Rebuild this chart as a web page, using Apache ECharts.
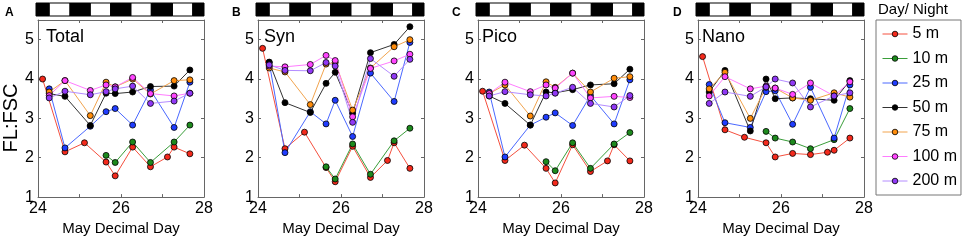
<!DOCTYPE html>
<html>
<head>
<meta charset="utf-8">
<script src="https://cdn.jsdelivr.net/npm/echarts@6/dist/echarts.min.js"></script>
<style>
html, body { margin: 0; padding: 0; background: #fff; }
#chart { width: 964px; height: 241px; }
</style>
</head>
<body>
<div id="chart"></div>
<script>
// sampling times (May decimal day) for each depth group
var t5m   = [24.11, 24.65, 25.12, 25.64, 25.86, 26.28, 26.71, 27.12, 27.28, 27.66];
var t10m  = [25.64, 25.86, 26.28, 26.71, 27.28, 27.66];
var tDeep = [24.27, 24.65, 25.26, 25.64, 25.86, 26.28, 26.71, 27.28, 27.66];

// light/dark switch times, first segment is night
var lightEdges = [23.95, 24.27, 24.77, 25.26, 25.75, 26.24, 26.73, 27.24, 27.73, 28.0];

var depths = ['5 m', '10 m', '25 m', '50 m', '75 m', '100 m', '200 m'];
var panelNames = ['Total', 'Syn', 'Pico', 'Nano'];
var panelLetters = ['A', 'B', 'C', 'D'];
var xLabels = [24, 26, 28];
var yLabels = [1, 2, 3, 4, 5];

// A - Total
var total5   = [4.0, 2.15, 2.38, 1.89, 1.54, 2.27, 1.77, 2.02, 2.27, 2.1];
var total10  = [2.06, 1.88, 2.4, 1.88, 2.4, 2.83];
var total25  = [3.75, 2.25, 2.8, 3.17, 3.25, 2.83, 3.72, 2.77, 3.92];
var total50  = [3.63, 3.56, 2.82, 3.64, 3.63, 3.67, 3.81, 3.82, 4.23];
var total75  = [3.67, 3.96, 3.07, 3.92, 3.8, 4.0, 3.62, 3.96, 3.98];
var total100 = [3.58, 3.96, 3.71, 3.85, 3.8, 4.04, 3.63, 3.57, 3.64];
var total200 = [3.52, 3.69, 3.6, 3.68, 3.75, 3.82, 3.38, 3.44, 3.64];

// B - Syn
var syn5   = [4.78, 2.23, 2.65, 1.75, 1.39, 2.29, 1.5, 1.93, 2.38, 1.73];
var syn10  = [1.77, 1.46, 2.35, 1.58, 2.43, 2.75];
var syn25  = [4.42, 2.13, 3.17, 2.86, 3.46, 2.54, 4.15, 3.43, 4.93];
var syn50  = [4.43, 3.4, 3.15, 3.89, 4.17, 3.13, 4.67, 4.88, 5.33];
var syn75  = [4.28, 4.18, 3.35, 4.38, 4.42, 3.21, 4.28, 4.82, 5.0];
var syn100 = [4.33, 4.31, 4.37, 4.6, 4.47, 3.04, 4.27, 4.46, 4.63];
var syn200 = [4.36, 4.22, 4.21, 4.42, 4.33, 2.9, 4.52, 4.07, 4.5];

// C - Pico
var pico5   = [3.69, 1.93, 2.32, 1.73, 1.36, 2.33, 1.65, 1.92, 2.33, 1.92];
var pico10  = [1.9, 1.67, 2.38, 1.73, 2.35, 2.64];
var pico25  = [3.67, 2.02, 2.83, 3.03, 3.14, 2.82, 3.58, 2.86, 3.98];
var pico50  = [3.57, 3.38, 2.83, 3.67, 3.65, 3.73, 3.85, 3.88, 4.25];
var pico75  = [3.63, 3.85, 3.06, 3.93, 3.79, 4.15, 3.67, 4.02, 4.06];
var pico100 = [3.63, 3.92, 3.68, 3.85, 3.77, 4.15, 3.52, 3.56, 3.53];
var pico200 = [3.57, 3.68, 3.6, 3.57, 3.64, 3.79, 3.38, 3.29, 3.58];

// D - Nano
var nano5   = [4.57, 2.71, 2.52, 2.38, 2.02, 2.11, 2.08, 2.14, 2.19, 2.5];
var nano10  = [2.67, 2.5, 2.4, 2.23, 2.46, 3.25];
var nano25  = [3.86, 2.89, 2.77, 3.68, 3.7, 2.85, 3.79, 2.5, 3.85];
var nano50  = [3.67, 4.22, 2.68, 4.0, 3.5, 3.52, 3.5, 3.46, 3.96];
var nano75  = [3.75, 4.17, 3.0, 3.79, 3.77, 3.52, 3.46, 3.65, 3.54];
var nano100 = [3.57, 4.06, 3.75, 3.82, 3.77, 3.61, 3.9, 3.57, 3.93];
var nano200 = [3.38, 3.67, 3.56, 3.8, 4.0, 3.9, 3.29, 3.57, 3.65];

var panels = [
    [total5, total10, total25, total50, total75, total100, total200],
    [syn5, syn10, syn25, syn50, syn75, syn100, syn200],
    [pico5, pico10, pico25, pico50, pico75, pico100, pico200],
    [nano5, nano10, nano25, nano50, nano75, nano100, nano200]
];
var depthTimes = [t5m, t10m, tDeep, tDeep, tDeep, tDeep, tDeep];

var markerColors = ['#f42a1c', '#1d8a1d', '#1f3cff', '#000000', '#ff8c0a', '#ff45ff', '#9038f5'];
var lineColors   = ['#f5503e', '#3a9e3a', '#4a68ff', '#333333', '#f2a44e', '#ff7cff', '#b48cff'];

var font = 'Liberation Sans, Arial, Helvetica, sans-serif';
var axisGray = '#666';

var chart = echarts.init(document.getElementById('chart'), null, { renderer: 'canvas' });

// day/night segments
var segments = [];
for (var i = 0; i < lightEdges.length - 1; i++) {
    segments.push([lightEdges[i], lightEdges[i + 1], i % 2 === 0 ? 1 : 0]);
}

var grids = [], xAxes = [], yAxes = [], series = [], graphics = [];
var plotLeft = 38, plotTop = 20, plotW = 166, plotH = 180, step = 220;
var titleX = [46, 264, 482, 702];
var letterX = [5, 232, 452, 673];

panels.forEach(function (vals, k) {
    var left = plotLeft + step * k;
    // main plot
    grids.push({ left: left, top: plotTop, width: plotW, height: plotH });
    // day/night strip
    grids.push({ left: left - 2, top: 3, width: 168, height: 13 });
    var g = 2 * k;

    var xMain = xAxes.length;
    xAxes.push({
        gridIndex: g, type: 'value', min: 24, max: 28, interval: 1,
        axisLine: { lineStyle: { color: axisGray, width: 1 } },
        axisTick: { inside: true, length: 3, lineStyle: { color: axisGray } },
        axisLabel: {
            fontSize: 16, color: '#000', fontFamily: font, margin: 3,
            showMinLabel: true, showMaxLabel: true,
            formatter: function (v) { return xLabels.indexOf(v) >= 0 ? String(v) : ''; }
        },
        splitLine: { show: false },
        name: 'May Decimal Day', nameLocation: 'middle', nameGap: 21,
        nameTextStyle: { fontSize: 15, color: '#000', fontFamily: font }
    });
    xAxes.push({
        gridIndex: g, type: 'value', position: 'top', min: 24, max: 28, interval: 1,
        axisLine: { lineStyle: { color: axisGray, width: 1 } },
        axisTick: { inside: true, length: 3, lineStyle: { color: axisGray } },
        axisLabel: { show: false }, splitLine: { show: false }
    });
    var xBar = xAxes.length;
    xAxes.push({ gridIndex: g + 1, type: 'value', min: 23.95, max: 28, show: false });

    var yMain = yAxes.length;
    yAxes.push({
        gridIndex: g, type: 'value', min: 1, max: 5.5, interval: 1,
        axisLine: { show: true, lineStyle: { color: axisGray, width: 1 } },
        axisTick: { show: true, inside: true, length: 3, lineStyle: { color: axisGray } },
        axisLabel: {
            fontSize: 16, color: '#000', fontFamily: font, margin: 4,
            formatter: function (v) { return yLabels.indexOf(v) >= 0 ? String(v) : ''; }
        },
        splitLine: { show: false }
    });
    yAxes.push({
        gridIndex: g, type: 'value', position: 'right', min: 1, max: 5.5, interval: 1,
        axisLine: { show: true, lineStyle: { color: axisGray, width: 1 } },
        axisTick: { show: true, inside: true, length: 3, lineStyle: { color: axisGray } },
        axisLabel: { show: false }, splitLine: { show: false }
    });
    var yBar = yAxes.length;
    yAxes.push({ gridIndex: g + 1, type: 'value', min: 0, max: 1, show: false });

    series.push({
        type: 'custom', xAxisIndex: xBar, yAxisIndex: yBar, silent: true,
        data: segments,
        renderItem: function (params, api) {
            var p0 = api.coord([api.value(0), 1]);
            var p1 = api.coord([api.value(1), 0]);
            return {
                type: 'rect',
                shape: { x: p0[0], y: p0[1], width: p1[0] - p0[0], height: p1[1] - p0[1] },
                style: { fill: api.value(2) ? '#000' : '#fff', stroke: '#000', lineWidth: 1 }
            };
        }
    });

    vals.forEach(function (arr, d) {
        var times = depthTimes[d];
        series.push({
            name: depths[d], type: 'line',
            xAxisIndex: xMain, yAxisIndex: yMain,
            data: arr.map(function (v, j) { return [times[j], v]; }),
            symbol: 'circle', symbolSize: 6,
            itemStyle: { color: markerColors[d], borderColor: '#000', borderWidth: 0.8 },
            lineStyle: { color: lineColors[d], width: 1 },
            emphasis: { disabled: true }
        });
    });

    graphics.push({
        type: 'text', left: titleX[k], top: 28,
        style: { text: panelNames[k], fill: '#000', font: '18px ' + font }
    });
    graphics.push({
        type: 'text', left: letterX[k], top: 7,
        style: { text: panelLetters[k], fill: '#000', font: 'bold 12px ' + font }
    });
});

// y axis label
graphics.push({
    type: 'text', x: 11, y: 118, rotation: Math.PI / 2,
    style: { text: 'FL:FSC', font: '20px ' + font, fill: '#000', align: 'center', verticalAlign: 'middle' }
});
// legend heading
graphics.push({
    type: 'text', left: 878, top: 2,
    style: { text: 'Day/ Night', font: '15px ' + font, fill: '#000' }
});

chart.setOption({
    animation: false,
    backgroundColor: '#fff',
    grid: grids,
    xAxis: xAxes,
    yAxis: yAxes,
    series: series,
    graphic: graphics,
    legend: {
        orient: 'vertical', left: 876, top: 20,
        data: depths.map(function (name, d) {
            return {
                name: name,
                itemStyle: { color: markerColors[d], borderColor: '#000', borderWidth: 0.8 },
                lineStyle: { color: lineColors[d], width: 1 }
            };
        }),
        selectedMode: false,
        itemWidth: 25, itemHeight: 7, itemGap: 8.5,
        padding: [6, 4, 6, 6],
        borderColor: '#777', borderWidth: 1,
        textStyle: { fontSize: 16, color: '#000', fontFamily: font }
    }
});
</script>
</body>
</html>
